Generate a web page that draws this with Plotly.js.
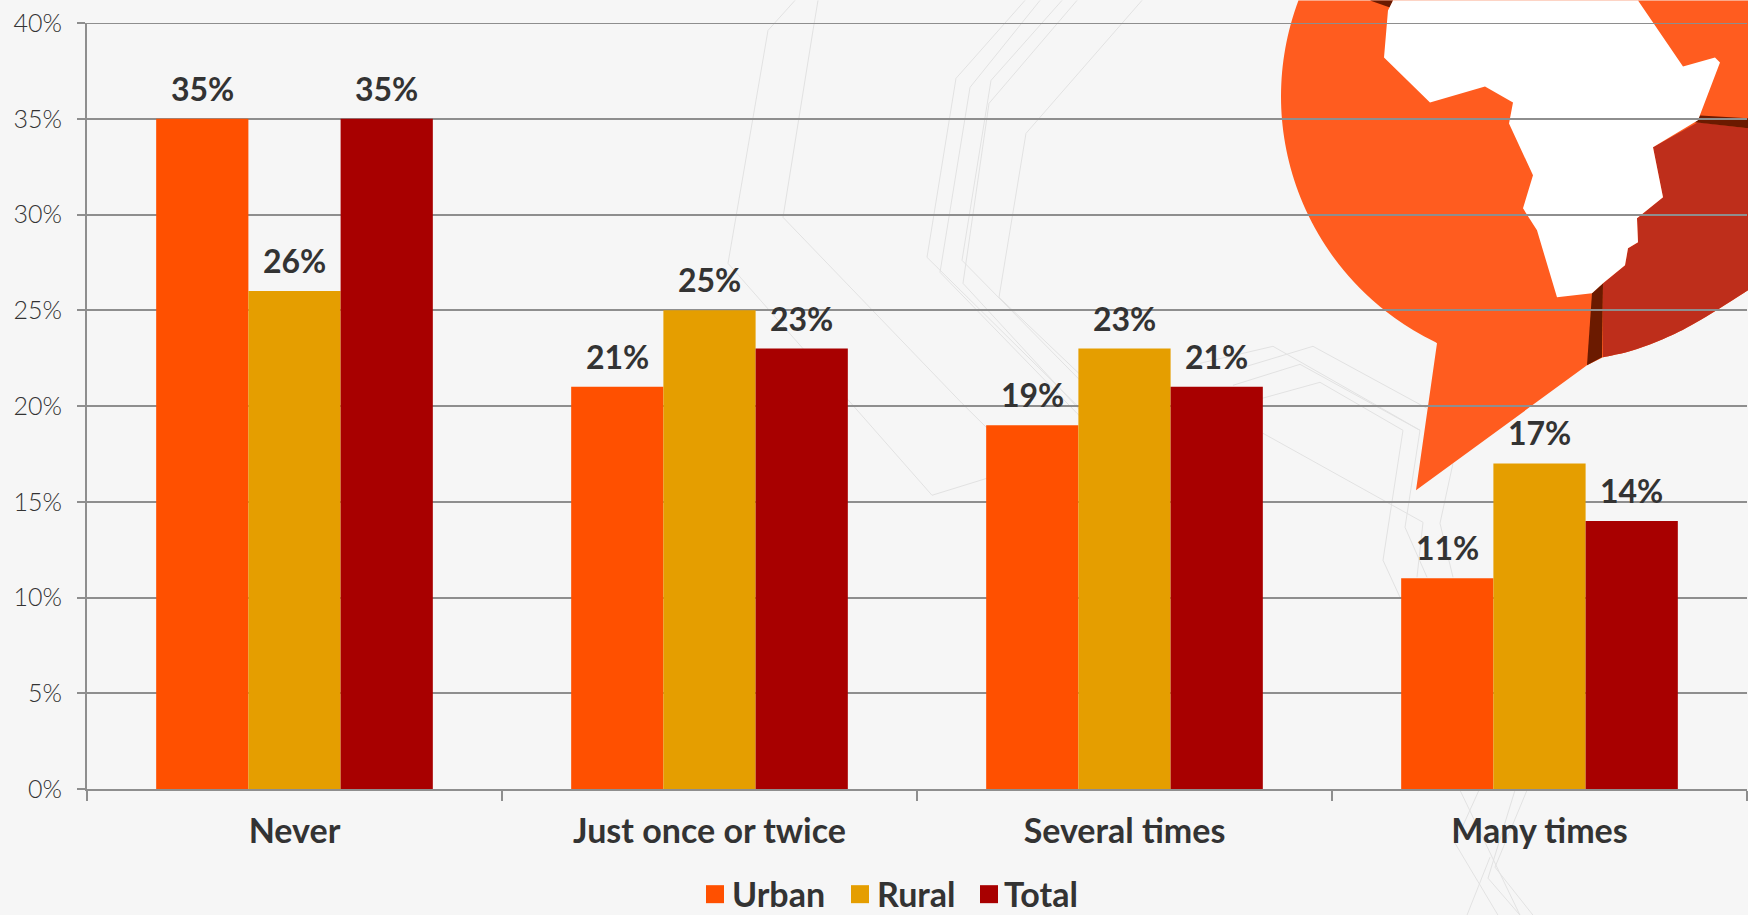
<!DOCTYPE html>
<html>
<head>
<meta charset="utf-8">
<script src="https://cdn.plot.ly/plotly-3.0.1.min.js"></script>
<style>html,body{margin:0;padding:0;background:#f6f6f6}#chart{width:1748px;height:915px}</style>
</head>
<body>
<div id="chart"></div>
<script>
// Survey responses by settlement type
const categories = ['Never', 'Just once or twice', 'Several times', 'Many times'];
const urban = [35, 21, 19, 11];
const rural = [26, 25, 23, 17];
const total = [35, 23, 21, 14];

const seriesNames = ['Urban', 'Rural', 'Total'];
const seriesColors = ['#ff5000', '#e59e00', '#a80000'];
const seriesValues = [urban, rural, total];

const INK = '#333333';
const RULE = '#8e8e8e';
const FONT = 'Lato, "Open Sans", sans-serif';
const BAR_GAP = 1 / 3;

// Plot box in page pixels; decoration below is laid out in the same pixels
const box = {l: 87, r: 1747, t: 22.6, b: 788.8};
const px = x => (x - box.l) / (box.r - box.l);
const py = y => (box.b - y) / (box.b - box.t);
const pathOf = pts => pts.map((p, i) => (i ? 'L' : 'M') + px(p[0]).toFixed(5) + ',' + py(p[1]).toFixed(5)).join(' ');
const poly = (pts, fill) => ({type: 'path', xref: 'paper', yref: 'paper', layer: 'below',
  path: pathOf(pts) + ' Z', fillcolor: fill, line: {width: 0}});
const wire = pts => ({type: 'path', xref: 'paper', yref: 'paper', layer: 'below',
  path: pathOf(pts), fillcolor: 'rgba(0,0,0,0)', line: {color: '#e2e2e2', width: 1}});

// Rounds off a traced outline with Catmull-Rom subdivision
function smooth(pts, steps = 8) {
  const out = [];
  for (let i = 0; i < pts.length - 1; i++) {
    const p0 = pts[Math.max(i - 1, 0)], p1 = pts[i], p2 = pts[i + 1], p3 = pts[Math.min(i + 2, pts.length - 1)];
    for (let s = 0; s < steps; s++) {
      const t = s / steps, t2 = t * t, t3 = t2 * t;
      out.push([0, 1].map(k => 0.5 * (2 * p1[k] + (p2[k] - p0[k]) * t +
        (2 * p0[k] - 5 * p1[k] + 4 * p2[k] - p3[k]) * t2 + (3 * p1[k] - p0[k] - 3 * p2[k] + p3[k]) * t3)));
    }
  }
  out.push(pts[pts.length - 1]);
  return out;
}

// Left side of the emblem's round body, walked from the page top to the tail
function leftRim(cx, cy, radius, yEnd) {
  const pts = [];
  for (let y = 0; y <= yEnd; y += 6) {
    pts.push([cx - Math.sqrt(radius * radius - (y - cy) * (y - cy)), y]);
  }
  return pts;
}

// Faint circuit-like lines in the page backdrop
const backdropLines = [
  [[795,0],[768,30],[728,263],[932,495],[987,478]],
  [[818,0],[813,30],[783,217],[962,403],[1050,490]],
  [[1025,0],[956,78],[927,257],[1079,407],[1130,460]],
  [[1040,0],[970,87],[940,272],[1077,413],[1120,455]],
  [[1062,0],[991,80],[962,260],[1083,383],[1160,460]],
  [[1077,0],[989,103],[963,283],[1080,410]],
  [[1142,0],[1026,133],[999,297],[1083,377]],
  [[1233,385],[1300,364],[1420,430],[1405,527],[1427,577]],
  [[1200,363],[1273,346],[1373,403],[1420,430]],
  [[1240,368],[1313,346],[1427,408]],
  [[1255,400],[1320,382],[1403,430],[1383,560],[1400,597]],
  [[1263,433],[1423,522],[1417,577]],
  [[1453,463],[1440,523],[1453,577]],
  [[1479,790],[1455,843],[1498,915]],
  [[1460,790],[1520,915]],
  [[1515,790],[1488,878],[1520,915]],
  [[1527,790],[1495,867],[1533,915]],
  [[1490,857],[1467,915]]
];

// Speech-bubble emblem with the map of Africa
const rimRight = [[1603,357],[1633,350],[1667,337],[1700,320],[1748,290]];
const bubble = leftRim(1554, 96, 273, 343).concat([[1437,343],[1416,490],[1587,365]], smooth(rimRight), [[1748,0]]);
const shadedPanel = [[1603,283],[1625,265],[1628,248],[1638,242],[1637,218],[1663,197],[1653,147],[1698,122],[1748,128]].concat(smooth(rimRight).reverse());
const seamLower = [[1592,293],[1603,283],[1602,357],[1587,365]];
const seamRight = [[1700,115],[1748,118],[1748,128],[1695,122]];
const seamTop = [[1370,0],[1393,0],[1390,7]];
const africa = [[1393,0],[1388,10],[1384,57],[1430,102],[1485,86],[1513,102],[1509,123],[1533,175],[1523,208],[1537,230],[1557,297],[1592,293],[1603,283],[1625,265],[1628,248],[1638,242],[1637,218],[1663,197],[1653,147],[1698,120],[1720,62],[1715,57],[1683,66],[1638,0]];

const shapes = backdropLines.map(wire).concat([
  poly(bubble, '#ff5c1f'),
  poly(shadedPanel, '#be2e1b'),
  poly(seamLower, '#6b1a00'),
  poly(seamRight, '#6b1a00'),
  poly(seamTop, '#6b1a00'),
  poly(africa, '#ffffff'),
  // Plotly leaves out the grid line on the axis end, so the 40% rule is added here
  {type: 'line', xref: 'paper', yref: 'y', x0: 0, x1: 1, y0: 40, y1: 40, layer: 'below', line: {color: RULE, width: 2}}
]);

// Key below the axis: swatch left edges and label left edges
const keySwatchX = [706, 851, 980];
const keyLabelX = [730, 875, 1002];
const keyY = 893;
seriesNames.forEach((name, i) => {
  shapes.push({type: 'rect', xref: 'paper', yref: 'paper', layer: 'above',
    x0: px(keySwatchX[i]), x1: px(keySwatchX[i] + 18), y0: py(894 + 9), y1: py(894 - 9),
    fillcolor: seriesColors[i], line: {width: 0}});
});
const annotations = seriesNames.map((name, i) => ({
  xref: 'paper', yref: 'paper', x: px(keyLabelX[i]), y: py(keyY), xanchor: 'left', yanchor: 'middle',
  text: name, showarrow: false, font: {family: FONT, size: 34, weight: 700, color: INK}
}));

// Value labels sit a little higher over each bar than bar text allows
const groupBarWidth = (1 - BAR_GAP) / seriesNames.length;
seriesValues.forEach((values, s) => {
  values.forEach((v, c) => annotations.push({
    xref: 'x', yref: 'y', x: c + (s - 1) * groupBarWidth, y: v, yanchor: 'bottom', yshift: 9,
    text: v + '%', showarrow: false, font: {family: FONT, size: 32, weight: 700, color: INK}
  }));
});

const traces = seriesNames.map((name, i) => ({
  type: 'bar', name, x: categories, y: seriesValues[i],
  marker: {color: seriesColors[i], line: {width: 0}},
  cliponaxis: false, hoverinfo: 'x+y+name'
}));

const layout = {
  width: 1748, height: 915,
  margin: {l: box.l, r: 1748 - box.r, t: box.t, b: 915 - box.b, autoexpand: false},
  paper_bgcolor: '#f6f6f6', plot_bgcolor: 'rgba(0,0,0,0)',
  barmode: 'group', bargap: BAR_GAP, bargroupgap: 0, showlegend: false,
  font: {family: FONT, color: INK},
  xaxis: {
    type: 'category', tickson: 'boundaries', ticks: 'outside', ticklen: 10, tickwidth: 2, tickcolor: RULE,
    showline: true, linecolor: RULE, linewidth: 2, showgrid: false, ticklabelstandoff: 11,
    tickfont: {family: FONT, size: 34, weight: 700, color: INK}
  },
  yaxis: {
    range: [0, 40], dtick: 5, ticksuffix: '%', ticks: 'outside', ticklen: 8, tickwidth: 2, tickcolor: RULE,
    showline: true, linecolor: RULE, linewidth: 2, showgrid: true, gridcolor: RULE, gridwidth: 2,
    zeroline: false, ticklabelstandoff: 10,
    tickfont: {family: FONT, size: 25, weight: 300, color: INK}
  },
  shapes, annotations
};

Plotly.newPlot('chart', traces, layout, {displayModeBar: false, staticPlot: true});
</script>
</body>
</html>
